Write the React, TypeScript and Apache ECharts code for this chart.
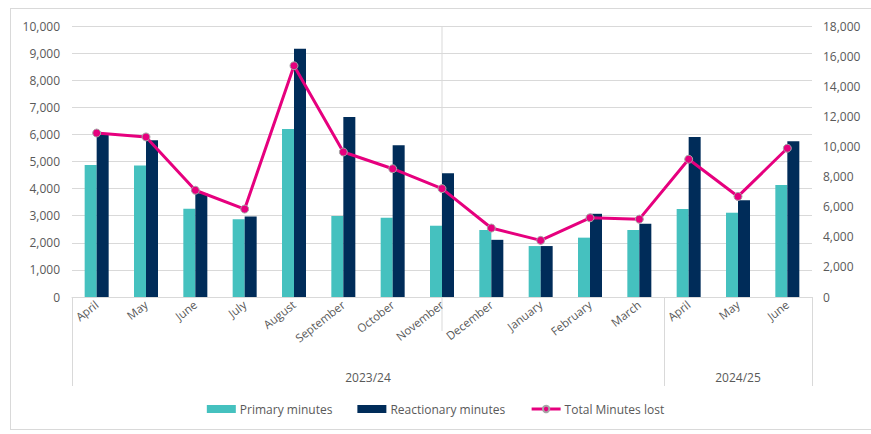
import React, { useEffect, useRef } from "react";
import * as echarts from "echarts";

const months = [
  "April", "May", "June", "July", "August", "September", "October", "November",
  "December", "January", "February", "March", "April", "May", "June",
];
const primaryMinutes = [4870, 4850, 3260, 2870, 6200, 2990, 2920, 2630, 2470, 1880, 2190, 2470, 3250, 3110, 4130];
const reactionaryMinutes = [6020, 5780, 3830, 2970, 9160, 6640, 5600, 4570, 2110, 1880, 3070, 2700, 5900, 3570, 5750];
const totalMinutesLost = [10890, 10630, 7090, 5840, 15360, 9630, 8520, 7200, 4580, 3760, 5260, 5170, 9150, 6680, 9880];

// Financial-year groups: label, first month index, number of months
const yearGroups: [string, number, number][] = [
  ["2023/24", 0, 12],
  ["2024/25", 12, 3],
];

const FONT = "'Open Sans', sans-serif";
const TEXT = "#595959";
const GRID = "#d9d9d9";

// Half-category slots let the group labels sit at the middle of each span
const slotCount = months.length * 2 + 1;
const groupSlots = Array.from({ length: slotCount }, () => "");
const groupLabelSlots = new Set<number>();
const groupTickSlots = new Set<number>([0]);
yearGroups.forEach(([name, start, len]) => {
  const mid = start * 2 + len;
  groupSlots[mid] = name;
  groupLabelSlots.add(mid);
  groupTickSlots.add((start + len) * 2);
});

const fmt = (v: number) => v.toLocaleString("en-US");

export default function App() {
  const ref = useRef<HTMLDivElement>(null);

  useEffect(() => {
    if (!ref.current) return;
    const chart = echarts.init(ref.current, undefined, { renderer: "svg" });
    chart.setOption({
      animation: false,
      textStyle: { fontFamily: FONT },
      grid: { left: 72, right: 59, top: 26, bottom: 137, containLabel: false },
      legend: {
        bottom: 14,
        left: "center",
        itemWidth: 29,
        itemHeight: 8,
        itemGap: 25,
        textStyle: { color: TEXT, fontSize: 12, fontFamily: FONT, padding: [0, 0, 0, -1] },
        data: [
          { name: "Primary minutes", icon: "rect" },
          { name: "Reactionary minutes", icon: "rect" },
          { name: "Total Minutes lost", lineStyle: { width: 3 } },
        ],
      },
      xAxis: [
        {
          type: "category",
          data: months,
          axisLine: { lineStyle: { color: GRID } },
          axisTick: { show: false },
          axisLabel: {
            interval: 0,
            rotate: 38,
            color: TEXT,
            fontSize: 11.5,
            fontFamily: FONT,
            margin: 6,
          },
        },
        {
          type: "category",
          position: "bottom",
          boundaryGap: false,
          data: groupSlots,
          axisLine: { show: false },
          axisTick: {
            show: true,
            length: 89,
            interval: (i: number) => groupTickSlots.has(i),
            lineStyle: { color: GRID },
          },
          axisLabel: {
            interval: (i: number) => groupLabelSlots.has(i),
            color: TEXT,
            fontSize: 12,
            fontFamily: FONT,
            margin: 74,
          },
        },
      ],
      yAxis: [
        {
          type: "value",
          min: 0,
          max: 10000,
          interval: 1000,
          axisLine: { show: false },
          axisTick: { show: false },
          splitLine: { lineStyle: { color: GRID, width: 1 } },
          axisLabel: { color: TEXT, fontSize: 12, fontFamily: FONT, margin: 12, formatter: fmt },
        },
        {
          type: "value",
          min: 0,
          max: 18000,
          interval: 2000,
          position: "right",
          axisLine: { show: false },
          axisTick: { show: false },
          splitLine: { show: false },
          axisLabel: { color: TEXT, fontSize: 12, fontFamily: FONT, margin: 11, formatter: fmt },
        },
      ],
      series: [
        {
          name: "Primary minutes",
          type: "bar",
          data: primaryMinutes,
          barWidth: 12,
          barGap: "0%",
          itemStyle: { color: "#45C1BF" },
        },
        {
          name: "Reactionary minutes",
          type: "bar",
          data: reactionaryMinutes,
          barWidth: 12,
          barGap: "0%",
          itemStyle: { color: "#002C59" },
        },
        {
          name: "Total Minutes lost",
          type: "line",
          yAxisIndex: 1,
          data: totalMinutesLost,
          symbol: "circle",
          symbolSize: 8,
          lineStyle: { color: "#E6007E", width: 3 },
          itemStyle: { color: "#E6007E", borderColor: "#a6a6a6", borderWidth: 1 },
          z: 5,
        },
      ],
    });

    // Thin divider through November
    const nx = chart.convertToPixel({ xAxisIndex: 0 }, "November") as number;
    const yTop = chart.convertToPixel({ yAxisIndex: 0 }, 10000) as number;
    const yBase = chart.convertToPixel({ yAxisIndex: 0 }, 0) as number;
    chart.setOption({
      graphic: [
        {
          type: "line",
          shape: { x1: nx, y1: yTop, x2: nx, y2: yBase + 34 },
          style: { stroke: GRID, lineWidth: 1 },
          z: 0,
        },
      ],
    });

    return () => chart.dispose();
  }, []);

  return (
    <div style={{ position: "absolute", left: 0, top: 0, width: 871, height: 434, background: "#fff" }}>
      <div
        style={{
          position: "absolute",
          left: 10,
          top: 8,
          width: 870,
          height: 422,
          border: `1px solid ${GRID}`,
          boxSizing: "border-box",
        }}
      />
      <div ref={ref} style={{ position: "absolute", left: 0, top: 0, width: 871, height: 434 }} />
    </div>
  );
}
